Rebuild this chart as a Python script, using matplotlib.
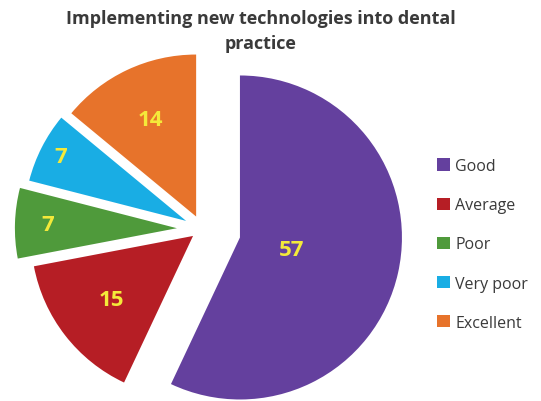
import numpy as np
import matplotlib.pyplot as plt

categories = ['Good', 'Average', 'Poor', 'Very poor', 'Excellent']
values = [57, 15, 7, 7, 14]
colors = ['#64409E', '#B61E25', '#4F9A3B', '#19ADE4', '#E7732B']
explode = [0.24, 0.07, 0.155, 0.11, 0.085]
label_pos = [0.33, 0.64, 0.8, 0.87, 0.66]

fig = plt.figure(figsize=(5.41, 4.02), dpi=100)
ax = fig.add_axes([0, 0, 1, 1])

r = 162
# pie's explode is in data units, so scale by the radius
wedges, _ = ax.pie(values, colors=colors, explode=[e * r for e in explode],
                   startangle=90, counterclock=False, center=(202, 172),
                   radius=r, wedgeprops=dict(linewidth=0))

for w, v, f in zip(wedges, values, label_pos):
    ang = np.deg2rad((w.theta1 + w.theta2) / 2)
    x = w.center[0] + f * r * np.cos(ang)
    y = w.center[1] + f * r * np.sin(ang)
    ax.text(x, y, str(v), ha='center', va='center', color='#F4E93A',
            fontsize=16, fontweight='bold', family='Open Sans')

ax.set_xlim(0, 541)
ax.set_ylim(0, 402)
ax.set_aspect('equal')
ax.set_axis_off()

fig.text(0.482, 0.922, 'Implementing new technologies into dental\npractice',
         ha='center', va='center', fontsize=13, fontweight='bold',
         color='#3A3A3A', family='Open Sans', linespacing=1.45)

leg = ax.legend(wedges, categories, loc='upper left', bbox_to_anchor=(0.782, 0.64),
                frameon=False, handlelength=0.8, handleheight=0.8,
                handletextpad=0.3, labelspacing=1.45, prop={'family': 'Open Sans', 'size': 11.5})
for t in leg.get_texts():
    t.set_color('#3A3A3A')

fig.savefig('out.png', dpi=100)
